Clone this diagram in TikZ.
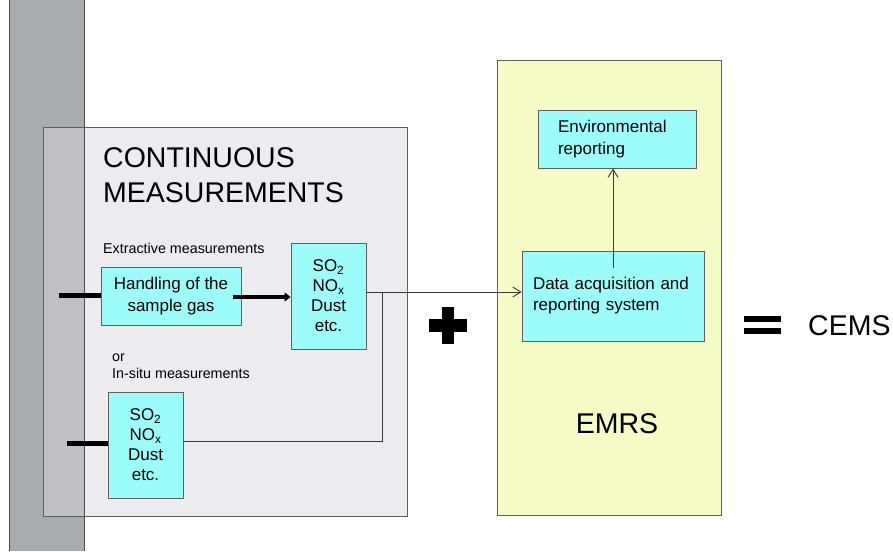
\documentclass[tikz,border=0pt]{standalone}
\usepackage{fontspec}
\setmainfont{Liberation Sans}
\usetikzlibrary{arrows.meta}
\definecolor{stackgray}{HTML}{A9ABAE}
\definecolor{stackedge}{HTML}{4A4A4C}
\definecolor{panelgray}{HTML}{ECECEE}
\definecolor{overlapgray}{HTML}{C0C0C2}
\definecolor{cyanbox}{HTML}{9CFCFA}
\definecolor{emrsyellow}{HTML}{F5FCC6}
\definecolor{edgegray}{HTML}{5F5F5F}
\definecolor{wiregray}{HTML}{3A3A3A}

\begin{document}
\begin{tikzpicture}[x=1pt,y=-1pt,
  box/.style={draw=edgegray, line width=0.9pt, fill=cyanbox, inner sep=0pt,
    font=\fontsize{17}{20}\selectfont, align=center},
  stub/.style={line width=5pt, black},
  wire/.style={draw=wiregray, line width=0.9pt},
  opentip/.style={-{Straight Barb[length=8pt,width=10pt,line width=0.9pt]}},
  smalltext/.style={font=\fontsize{14.3}{17}\selectfont, inner sep=0pt},
  bigtext/.style={font=\fontsize{28.5}{35}\selectfont, inner sep=0pt}
]
\path[use as bounding box, fill=white] (0,0) rectangle (893,551);

% stack wall on the left
\fill[stackgray] (9,0) rectangle (84,551);
\draw[stackedge, line width=0.8pt] (9,0) -- (9,551);

% continuous measurements panel
\fill[panelgray] (43,127) rectangle (407,516);
\fill[overlapgray] (43,127) rectangle (84,516);
\draw[edgegray, line width=0.9pt] (43,127) rectangle (407,516);
\draw[stackedge, line width=0.8pt] (84,0) -- (84,551);

\node[bigtext, anchor=north west, align=left] (title) at (103,147.5)
  {CONTINUOUS\\MEASUREMENTS};
\node[smalltext, anchor=base west] (extr) at (103,253) {Extractive measurements};
\node[smalltext, anchor=base west] (orlbl) at (112,361) {or};
\node[smalltext, anchor=base west] (insitu) at (112,378) {In-situ measurements};

\node[box, minimum width=140, minimum height=58, font=\fontsize{17}{22}\selectfont]
  (handling) at (171,296) {Handling of the\\sample gas};
\node[box, minimum width=75, minimum height=106] (so2a) at (328.5,296)
  {SO\textsubscript{2}\\NO\textsubscript{x}\\Dust\\etc.};
\node[box, minimum width=75, minimum height=106] (so2b) at (145.5,445)
  {SO\textsubscript{2}\\NO\textsubscript{x}\\Dust\\etc.};

% probe stubs
\coordinate (p1) at (59,295);
\coordinate (p2) at (67,443);
\draw[stub] (p1) -- (p1 -| handling.west);
\draw[stub] (p2) -- (p2 -| so2b.west);

% sample gas transfer
\coordinate (h1) at (233,297);
\draw[line width=3.5pt, -{Triangle[length=6pt,width=9pt]}] (h1) -- (h1 -| so2a.west);

% EMRS panel
\fill[emrsyellow] (497,60) rectangle (721,515);
\draw[edgegray, line width=0.9pt] (497,60) rectangle (721,515);

\node[box, minimum width=158, minimum height=58, text width=118, inner xsep=20pt,
  align=left, font=\fontsize{17}{22}\selectfont] (env) at (617,139)
  {Environmental\\reporting};
\node[box, minimum width=182, minimum height=90, text width=160, inner xsep=11pt,
  align=left, font=\fontsize{17}{21}\selectfont] (data) at (613,296)
  {Data acquisition and\\reporting system};
\node[bigtext, anchor=base] (emrs) at (617,433) {EMRS};

% signal lines
\coordinate (j) at (382,292);
\coordinate (k) at (382,441);
\draw[wire, opentip] (so2a.east |- j) -- (j -| data.west);
\draw[wire] (j) -- (k) -- (k -| so2b.east);
\coordinate (v) at (613,268);
\draw[wire, opentip] (v) -- (v |- env.south);

% plus and equals signs
\fill[black] (429,319) rectangle (467,332);
\fill[black] (442,307) rectangle (454,344);
\fill[black] (744,316) rectangle (781,322);
\fill[black] (744,328) rectangle (781,334);

\node[bigtext, anchor=base west] (cems) at (808,335) {CEMS};
\end{tikzpicture}
\end{document}
